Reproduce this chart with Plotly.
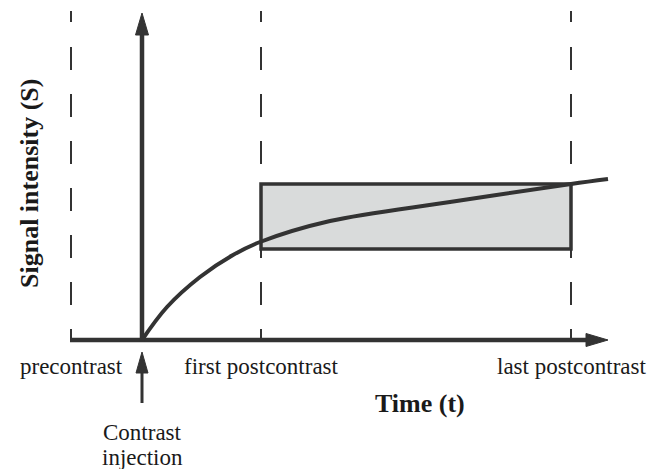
import plotly.graph_objects as go

# ---- data (time t relative to contrast injection, signal S) ----
curve_t = [0, 25, 58, 91, 118, 188, 308, 429, 466]
curve_s = [0, 33, 63, 85, 98, 119, 138, 156, 161]

phase_labels = ["precontrast", "first postcontrast", "last postcontrast"]
phase_times = [-71, 119, 429]

box_t = [119, 429]          # first to last postcontrast
box_s = [91, 156]           # signal range of box

axis_x_range = [-72, 466]   # time axis start / arrow tip
axis_y_top = 327            # signal axis arrow tip
injection_arrow = [-12, -63]  # tip / tail (signal units below axis)

x_title = "Time (t)"
y_title = "Signal intensity (S)"
injection_label = ["Contrast", "injection"]

DARK = "#333333"
TEXT = "#1a1a1a"
FONT = "Liberation Serif"

fig = go.Figure()

shapes = []
# dashed phase lines
for t in phase_times:
    shapes.append(dict(type="line", xref="x", yref="y", x0=t, x1=t, y0=293, y1=0,
                       line=dict(color=DARK, width=2, dash="23px,24px"), layer="below"))
    shapes.append(dict(type="line", xref="x", yref="y", x0=t, x1=t, y0=329, y1=318,
                       line=dict(color=DARK, width=2), layer="below"))
# box
shapes.append(dict(type="rect", xref="x", yref="y", x0=box_t[0], x1=box_t[1],
                   y0=box_s[0], y1=box_s[1], fillcolor="#d9dbdb",
                   line=dict(color=DARK, width=3.5), layer="below"))

# axes shafts
head_len, head_half = 22, 6.5
shapes.append(dict(type="line", xref="x", yref="y", x0=axis_x_range[0], x1=axis_x_range[1] - head_len + 2,
                   y0=0, y1=0, line=dict(color=DARK, width=4.5)))
shapes.append(dict(type="line", xref="x", yref="y", x0=0, x1=0, y0=-2, y1=axis_y_top - head_len + 2,
                   line=dict(color=DARK, width=4.5)))
# arrowheads
tx = axis_x_range[1]
shapes.append(dict(type="path", xref="x", yref="y",
                   path=f"M {tx},0 L {tx-head_len},{head_half} L {tx-head_len},{-head_half} Z",
                   fillcolor=DARK, line=dict(color=DARK, width=1)))
ty = axis_y_top
shapes.append(dict(type="path", xref="x", yref="y",
                   path=f"M 0,{ty} L {head_half},{ty-head_len} L {-head_half},{ty-head_len} Z",
                   fillcolor=DARK, line=dict(color=DARK, width=1)))
# injection arrow
it, ib = injection_arrow
shapes.append(dict(type="line", xref="x", yref="y", x0=0, x1=0, y0=it - 15, y1=ib,
                   line=dict(color=DARK, width=3)))
shapes.append(dict(type="path", xref="x", yref="y",
                   path=f"M 0,{it} L 6,{it-21} L -6,{it-21} Z",
                   fillcolor=DARK, line=dict(color=DARK, width=1)))

fig.add_trace(go.Scatter(x=curve_t, y=curve_s, mode="lines",
                         line=dict(color=DARK, width=4, shape="spline", smoothing=1),
                         hoverinfo="skip", showlegend=False))

annotations = []
for lab, t in zip(phase_labels, phase_times):
    annotations.append(dict(x=t, y=-26, text=lab, showarrow=False, xref="x", yref="y",
                            font=dict(family=FONT, size=23, color=TEXT)))
annotations.append(dict(x=278, y=-63, text=f"<b>{x_title}</b>", showarrow=False,
                        xref="x", yref="y", font=dict(family=FONT, size=26, color=TEXT)))
annotations.append(dict(x=-113, y=157, text=f"<b>{y_title}</b>", showarrow=False, textangle=-90,
                        xref="x", yref="y", font=dict(family=FONT, size=26, color=TEXT)))
annotations.append(dict(x=0, y=-92, text=injection_label[0], showarrow=False, xref="x", yref="y",
                        font=dict(family=FONT, size=23, color=TEXT)))
annotations.append(dict(x=0, y=-117, text=injection_label[1], showarrow=False, xref="x", yref="y",
                        font=dict(family=FONT, size=23, color=TEXT)))

# page body has an 8px margin: offset the ranges so 1 unit = 1 px on the page
fig.update_layout(
    width=659, height=469, margin=dict(l=0, r=0, t=0, b=0),
    paper_bgcolor="white", plot_bgcolor="white",
    xaxis=dict(range=[-134, 525], visible=False, fixedrange=True),
    yaxis=dict(range=[-137, 332], visible=False, fixedrange=True),
    shapes=shapes, annotations=annotations, showlegend=False,
)

fig.write_html("out.html")
